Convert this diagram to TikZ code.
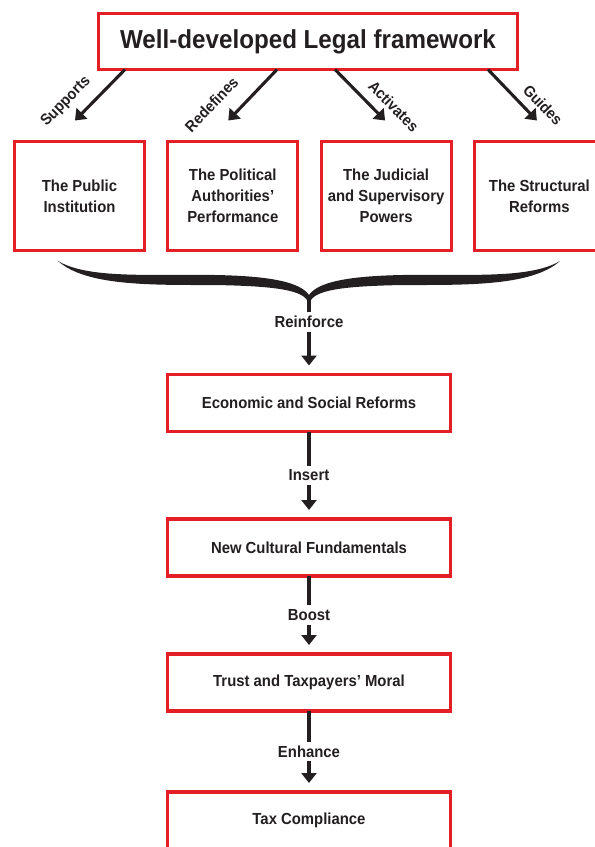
\documentclass[tikz,border=0pt]{standalone}
\usepackage{fontspec}
\setmainfont{Liberation Sans}[FakeStretch=0.93]
\usetikzlibrary{positioning,arrows.meta}
\definecolor{boxred}{RGB}{228,32,38}
\definecolor{ink}{RGB}{35,31,32}
\begin{document}
\begin{tikzpicture}[every text node part/.style={align=center}, font=\bfseries\fontsize{16}{21}\selectfont, text=ink]

\tikzstyle{framed} = [rectangle, draw=boxred, line width=3.2pt, outer sep=0, inner sep=4pt]
\tikzstyle{cell} = [framed, minimum width=130pt, minimum height=109pt]
\tikzstyle{stage} = [framed, minimum width=283pt, minimum height=57pt]
\tikzstyle{arrow} = [draw=ink, line width=3.1pt, -{Triangle[width=15pt,length=10pt]}]
\tikzstyle{verb} = [inner sep=4pt, fill=white]
\tikzstyle{slant} = [sloped, inner sep=3pt, font=\bfseries\fontsize{15.5}{18}\selectfont]

\useasboundingbox (0,0) rectangle (595pt,-847pt);

\node [framed, minimum width=419pt, minimum height=56pt, font=\bfseries\fontsize{26}{30}\selectfont] (legal) at (308pt,-41.5pt) {Well-developed Legal framework};

\node [cell] (public) at (79.5pt,-196pt) {The Public\\Institution};
\node [cell, right=23.3pt of public] (political) {The Political\\Authorities'\\Performance};
\node [cell, right=23.3pt of political] (judicial) {The Judicial\\and Supervisory\\Powers};
\node [cell, right=23.3pt of judicial] (structural) {The Structural\\Reforms};

\draw [arrow] ([xshift=-183pt]legal.south) -- node [slant, pos=0.9, above=8pt] {Supports} ([xshift=-4.5pt,yshift=21pt]public.north);
\draw [arrow] ([xshift=-31pt]legal.south) -- node [slant, pos=1, above=13pt] {Redefines} ([xshift=-4.5pt,yshift=21pt]political.north);
\draw [arrow] ([xshift=27pt]legal.south) -- node [slant, pos=0.94, above=6pt] {Activates} ([xshift=-1pt,yshift=21pt]judicial.north);
\draw [arrow] ([xshift=180pt]legal.south) -- node [slant, pos=0.9, above=5pt] {Guides} ([xshift=-2.5pt,yshift=21pt]structural.north);

% brace under the four boxes
\fill [ink, x=1pt, y=-1pt] (58,261) .. controls (88,279) and (150,274) .. (215,275)
  .. controls (270,276) and (300,282) .. (309,295)
  .. controls (318,282) and (348,276) .. (403,275)
  .. controls (468,274) and (530,279) .. (560,261)
  .. controls (532,286) and (468,285) .. (403,285)
  .. controls (350,286) and (318,289) .. (311,300) -- (307,300)
  .. controls (300,289) and (268,286) .. (215,285)
  .. controls (150,285) and (86,286) .. (58,261) -- cycle;
\coordinate (tip) at (309pt,-299pt);

\node [stage] (eco) at (309pt,-403pt) {Economic and Social Reforms};
\node [stage, below=87.5pt of eco] (cult) {New Cultural Fundamentals};
\node [stage, below=78pt of cult] (trust) {Trust and Taxpayers' Moral};
\node [stage, below=81pt of trust] (tax) {Tax Compliance};

\draw [arrow, shorten >=9pt] (tip) -- node [verb, pos=0.3] {Reinforce} (eco);
\draw [arrow, shorten >=9pt] (eco) -- node [verb] {Insert} (cult);
\draw [arrow, shorten >=9pt] (cult) -- node [verb] {Boost} (trust);
\draw [arrow, shorten >=9pt] (trust) -- node [verb] {Enhance} (tax);
\end{tikzpicture}
\end{document}
